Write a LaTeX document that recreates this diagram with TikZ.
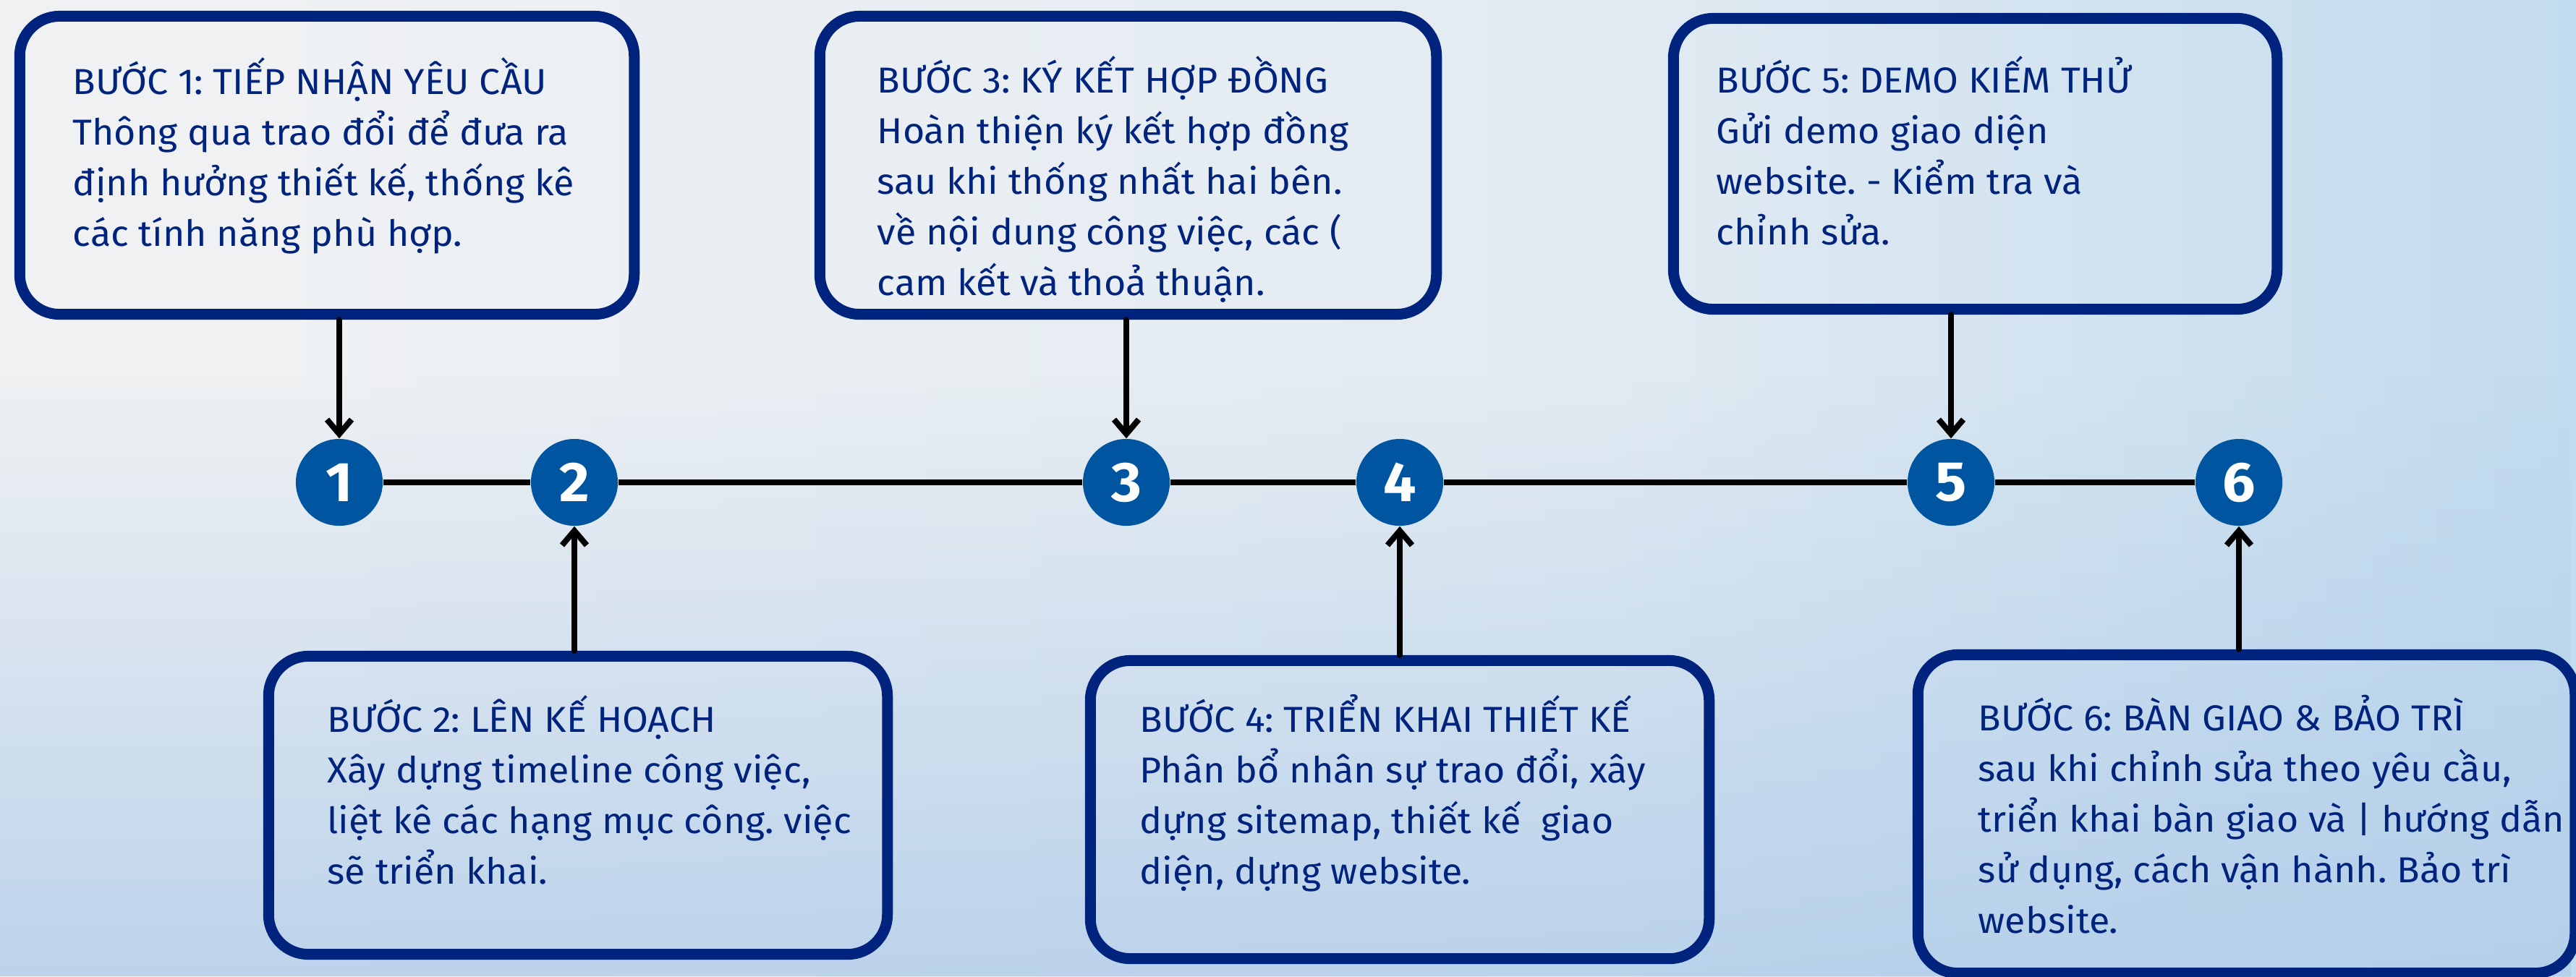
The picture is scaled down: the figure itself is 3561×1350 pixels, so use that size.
\documentclass[tikz,border=0pt]{standalone}
\usepackage{fontspec}
\setmainfont{Fira Sans}[FakeStretch=1.04]
\usetikzlibrary{arrows.meta, fadings}
\definecolor{stepnavy}{HTML}{00247D}
\definecolor{dotblue}{HTML}{0055A0}
\definecolor{bgwhite}{HTML}{EFF1F3}
\definecolor{bgmid}{HTML}{E2EBF2}
\definecolor{bgblue}{HTML}{A6CDEA}
\definecolor{bgbottom}{HTML}{B0CCE9}
\pgfdeclarehorizontalshading{bgshade}{100bp}{color(0bp)=(bgwhite); color(30bp)=(bgwhite); color(56bp)=(bgmid); color(92bp)=(bgblue); color(100bp)=(bgblue)}
\newcommand{\boxlinewidth}{0.15cm}
\newcommand{\steparrow}{-{Straight Barb[length=2mm,width=3.4mm]}}
\newcommand{\stepfont}{\fontsize{14.2pt}{19.9pt}\selectfont}
\tikzset{
  stepbox/.style={draw=stepnavy, line width=\boxlinewidth, rounded corners=0.55cm, inner sep=0pt},
  steptext/.style={anchor=base west, align=left, inner sep=0pt, text=stepnavy, font=\stepfont},
  stepcircle/.style={circle, fill=dotblue, minimum size=1.2cm, inner sep=0pt, text=white,
    font=\fontsize{22pt}{22pt}\selectfont\bfseries},
  timeline/.style={line width=0.08cm},
  steplink/.style={line width=0.08cm, line cap=round, line join=round}
}
\frenchspacing

\begin{document}
\begin{tikzpicture}[x=0.01cm, y=-0.01cm]
  \useasboundingbox (0,0) rectangle (3561,1350);
  % background
  \fill[shading=bgshade] (0,0) rectangle (3561,1350);
  \fill[bgbottom, path fading=north, opacity=0.8] (0,520) rectangle (3561,1350);

  % boxes
  \node[stepbox, minimum width=8.49cm, minimum height=4.12cm] (box1) at (452,228.5) {};
  \node[stepbox, minimum width=8.52cm, minimum height=4.12cm] (box3) at (1559.5,228.5) {};
  \node[stepbox, minimum width=8.34cm, minimum height=4.02cm] (box5) at (2730.5,226.5) {};
  \node[stepbox, minimum width=8.55cm, minimum height=4.12cm] (box2) at (799,1113.5) {};
  \node[stepbox, minimum width=8.55cm, minimum height=4.12cm] (box4) at (1935,1119.5) {};
  \node[stepbox, minimum width=9.08cm, minimum height=4.40cm] (box6) at (3105.5,1125.5) {};

  % texts (placed at the baseline of their last line)
  \node[steptext] (txt1) at (100,340) {BƯỚC 1: TIẾP NHẬN YÊU CẦU\\Thông qua trao đổi để đưa ra\\định hưởng thiết kế, thống kê\\các tính năng phù hợp.};
  \node[steptext] (txt3) at (1212,408) {BƯỚC 3: KÝ KẾT HỢP ĐỒNG\\Hoàn thiện ký kết hợp đồng\\sau khi thống nhất hai bên.\\về nội dung công việc, các (\\cam kết và thoả thuận.};
  \node[steptext] (txt5) at (2372,338) {BƯỚC 5: DEMO KIẾM THỬ\\Gửi demo giao diện\\website. - Kiểm tra và\\chỉnh sửa.};
  \node[steptext] (txt2) at (452,1222) {BƯỚC 2: LÊN KẾ HOẠCH\\Xây dựng timeline công việc,\\liệt kê các hạng mục công. việc\\sẽ triển khai.};
  \node[steptext] (txt4) at (1575,1222) {BƯỚC 4: TRIỂN KHAI THIẾT KẾ\\Phân bổ nhân sự trao đổi, xây\\dựng sitemap, thiết kế~ giao\\diện, dựng website.};
  \node[steptext] (txt6) at (2734,1290) {BƯỚC 6: BÀN GIAO \& BẢO TRÌ\\sau khi chỉnh sửa theo yêu cầu,\\triển khai bàn giao và | hướng dẫn\\sử dụng, cách vận hành. Bảo trì\\website.};

  % timeline
  \node[stepcircle] (c1) at (469,667) {1};
  \node[stepcircle] (c2) at (794,667) {2};
  \node[stepcircle] (c3) at (1557,667) {3};
  \node[stepcircle] (c4) at (1935,667) {4};
  \node[stepcircle] (c5) at (2697,667) {5};
  \node[stepcircle] (c6) at (3095,667) {6};
  \draw[timeline] (c1) -- (c2) -- (c3) -- (c4) -- (c5) -- (c6);

  \draw[steplink, \steparrow] (box1.south -| c1) -- (c1);
  \draw[steplink, \steparrow] (box3.south -| c3) -- (c3);
  \draw[steplink, \steparrow] (box5.south -| c5) -- (c5);
  \draw[steplink, \steparrow] (box2.north -| c2) -- (c2);
  \draw[steplink, \steparrow] (box4.north -| c4) -- (c4);
  \draw[steplink, \steparrow] (box6.north -| c6) -- (c6);
\end{tikzpicture}
\end{document}
